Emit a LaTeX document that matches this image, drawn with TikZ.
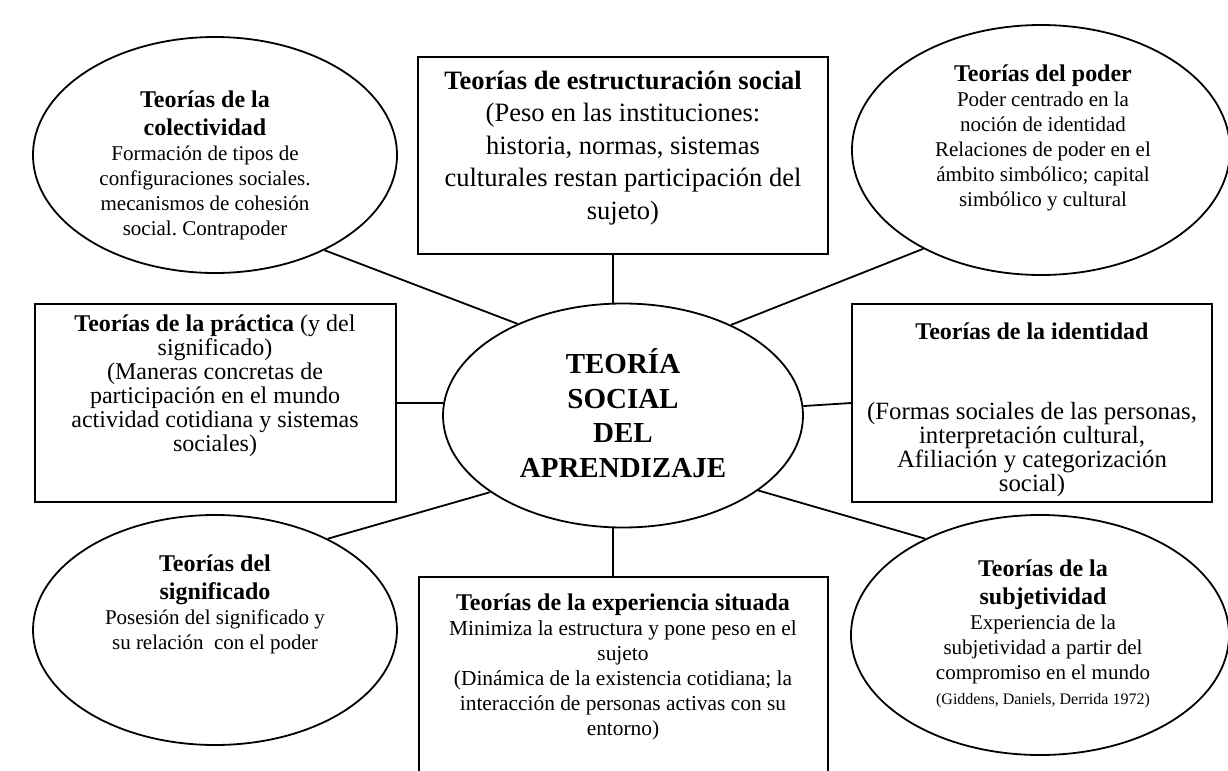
\documentclass[tikz,border=0pt]{standalone}
\usepackage{fontspec}
\setmainfont{Liberation Serif}
\usetikzlibrary{shapes.geometric}
\frenchspacing
\newcommand{\ttl}[1]{{\fontsize{12}{14}\selectfont\bfseries #1}}
\tikzset{
  oval/.style={draw, ellipse, line width=0.9pt, inner sep=0pt},
  boxx/.style={draw, rectangle, line width=0.9pt, inner sep=0pt},
  conn/.style={line width=0.9pt},
  ovtxt/.style={align=center, inner sep=0pt, font=\fontsize{10.5}{12.5}\selectfont},
  toptxt/.style={align=center, inner sep=0pt, font=\fontsize{13.25}{16.25}\selectfont},
  sidetxt/.style={align=center, inner sep=0pt, font=\fontsize{12}{12}\selectfont},
  bottxt/.style={align=center, inner sep=0pt, font=\fontsize{10.7}{12.5}\selectfont},
  centtxt/.style={align=center, inner sep=0pt, font=\bfseries\fontsize{14.5}{17.25}\selectfont}
}
\begin{document}
\begin{tikzpicture}[x=0.5pt, y=-0.5pt]
\useasboundingbox (0,0) rectangle (1228,771);
% shapes
\node[oval, minimum width=182pt, minimum height=118pt] (colect) at (215,155) {};
\node[boxx, minimum width=205pt, minimum height=98.5pt] (struct) at (623,155.5) {};
\node[oval, minimum width=189pt, minimum height=125pt] (poder) at (1041,150) {};
\node[boxx, minimum width=180.5pt, minimum height=99pt] (pract) at (215.5,403) {};
\node[oval, minimum width=180pt, minimum height=112pt] (center) at (623,415.5) {};
\node[boxx, minimum width=180pt, minimum height=99pt] (ident) at (1032,403) {};
\node[oval, minimum width=182pt, minimum height=115pt] (signif) at (215,630) {};
\node[boxx, minimum width=204.5pt, minimum height=150pt] (exper) at (623.5,727) {};
\node[oval, minimum width=189pt, minimum height=120pt] (subj) at (1040,635) {};
% texts
\node[ovtxt] (colectT) at (205,165) {\ttl{Teorías de la}\\[1.5pt]\ttl{colectividad}\\Formación de tipos de\\configuraciones sociales.\\mecanismos de cohesión\\social. Contrapoder};
\node[toptxt] (structT) at (623,148) {\textbf{Teorías de estructuración social}\\(Peso en las instituciones:\\historia, normas, sistemas\\culturales restan participación del\\sujeto)};
\node[ovtxt] (poderT) at (1043,138) {\ttl{Teorías del poder}\\Poder centrado en la\\noción de identidad\\Relaciones de poder en el\\ámbito simbólico; capital\\simbólico y cultural};
\node[sidetxt] (practT) at (215,386) {\textbf{Teorías de la práctica} (y del\\significado)\\(Maneras concretas de\\participación en el mundo\\actividad cotidiana y sistemas\\sociales)};
\node[centtxt] (centerT) at (623,413) {TEORÍA\\SOCIAL\\DEL\\APRENDIZAJE};
\node[sidetxt] (identT) at (1032,331) {\textbf{Teorías de la identidad}};
\node[sidetxt, font=\fontsize{12.4}{12}\selectfont] (identB) at (1032,450) {(Formas sociales de las personas,\\interpretación cultural,\\Afiliación y categorización\\social)};
\node[ovtxt] (signifT) at (215,604) {\ttl{Teorías del}\\[1.5pt]\ttl{significado}\\Posesión del significado y\\su relación~ con el poder};
\node[bottxt] (experT) at (623,667) {\ttl{Teorías de la experiencia situada}\\Minimiza la estructura y pone peso en el\\sujeto\\(Dinámica de la existencia cotidiana; la\\interacción de personas activas con su\\entorno)};
\node[ovtxt] (subjT) at (1043,634) {\ttl{Teorías de la}\\[1.5pt]\ttl{subjetividad}\\Experiencia de la\\subjetividad a partir del\\compromiso en el mundo\\{\fontsize{8}{10}\selectfont(Giddens, Daniels, Derrida 1972)}};
% connectors
\draw[conn] (colect.-41.3) -- (center.139.6);
\draw[conn] (poder.220.8) -- (center.40.2);
\draw[conn] (signif.39.9) -- (center.210.1);
\draw[conn] (subj.140.1) -- (center.-29.9);
\draw[conn] (center.95.6) -- (center.95.6 |- struct.south);
\draw[conn] (center.-95.6) -- (center.-95.6 |- exper.north);
\draw[conn] (pract.east) -- (center.176.2);
\draw[conn] (center.3.8) -- (ident.west);
\end{tikzpicture}
\end{document}
